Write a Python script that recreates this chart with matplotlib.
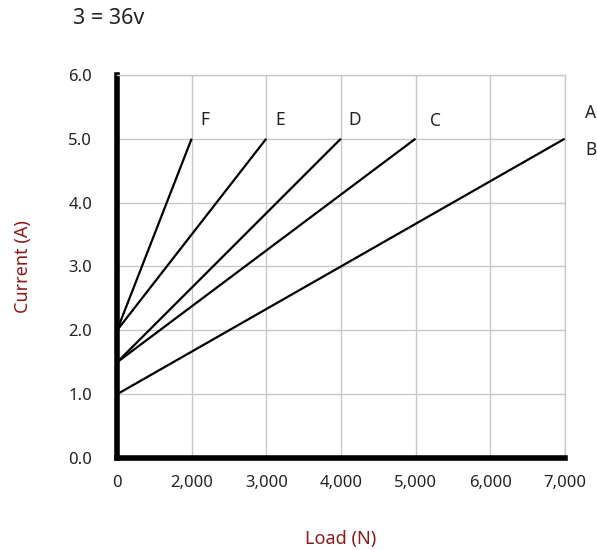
import matplotlib.pyplot as plt

# category axis: loads, equally spaced as in the source chart
load_labels = ["0", "2,000", "3,000", "4,000", "5,000", "6,000", "7,000"]
load_values = [0, 2000, 3000, 4000, 5000, 6000, 7000]

# each line: start current at 0 load, end current at the max load
line_names = ["B", "C", "D", "E", "F"]
start_current = [1.0, 1.5, 1.5, 2.0, 2.0]
end_current = [5.0, 5.0, 5.0, 5.0, 5.0]
end_load = [7000, 5000, 4000, 3000, 2000]

y_ticks = [0, 1, 2, 3, 4, 5, 6]
y_labels = ["0.0", "1.0", "2.0", "3.0", "4.0", "5.0", "6.0"]

LABEL_RED = "#8b1a1a"
FONT = "Noto Sans"
TEXT = "#222222"

fig = plt.figure(figsize=(5.97, 5.50), dpi=100)
ax = fig.add_axes([0.196, 0.167, 0.75, 0.697])

for name, y0, y1, load in zip(line_names, start_current, end_current, end_load):
    x1 = load_values.index(load)
    ax.plot([0, x1], [y0, y1], color="black", lw=1.6, solid_capstyle="butt")

# line letters
ax.text(1.12, 5.22, "F", fontsize=12.5, family=FONT, color=TEXT)
ax.text(2.12, 5.22, "E", fontsize=12.5, family=FONT, color=TEXT)
ax.text(3.1, 5.22, "D", fontsize=12.5, family=FONT, color=TEXT)
ax.text(4.2, 5.2, "C", fontsize=12.5, family=FONT, color=TEXT)
ax.text(6.27, 5.33, "A", fontsize=12.5, family=FONT, color=TEXT, clip_on=False)
ax.text(6.27, 4.74, "B", fontsize=12.5, family=FONT, color=TEXT, clip_on=False)

ax.set_xlim(0, 6)
ax.set_ylim(0, 6)
ax.set_xticks(range(len(load_labels)))
ax.set_xticklabels(load_labels, family=FONT, fontsize=12, color=TEXT)
ax.set_yticks(y_ticks)
ax.set_yticklabels(y_labels, family=FONT, fontsize=12, color=TEXT)
ax.tick_params(length=0)
ax.tick_params(axis="y", pad=18)
ax.tick_params(axis="x", pad=12)

ax.grid(True, color="#c8c8c8", lw=1)
ax.set_axisbelow(True)
for side in ["top", "right"]:
    ax.spines[side].set_color("#c8c8c8")
    ax.spines[side].set_linewidth(1)
for side in ["left", "bottom"]:
    ax.spines[side].set_color("black")
    ax.spines[side].set_linewidth(4)

ax.set_xlabel("Load (N)", color=LABEL_RED, fontsize=13, family=FONT, labelpad=28)
ax.set_ylabel("Current (A)", color=LABEL_RED, fontsize=13, family=FONT, labelpad=26)

fig.text(0.122, 0.967, "3 = 36v", fontsize=15.5, family=FONT, color=TEXT, va="center")

fig.savefig("out.png", dpi=100)
